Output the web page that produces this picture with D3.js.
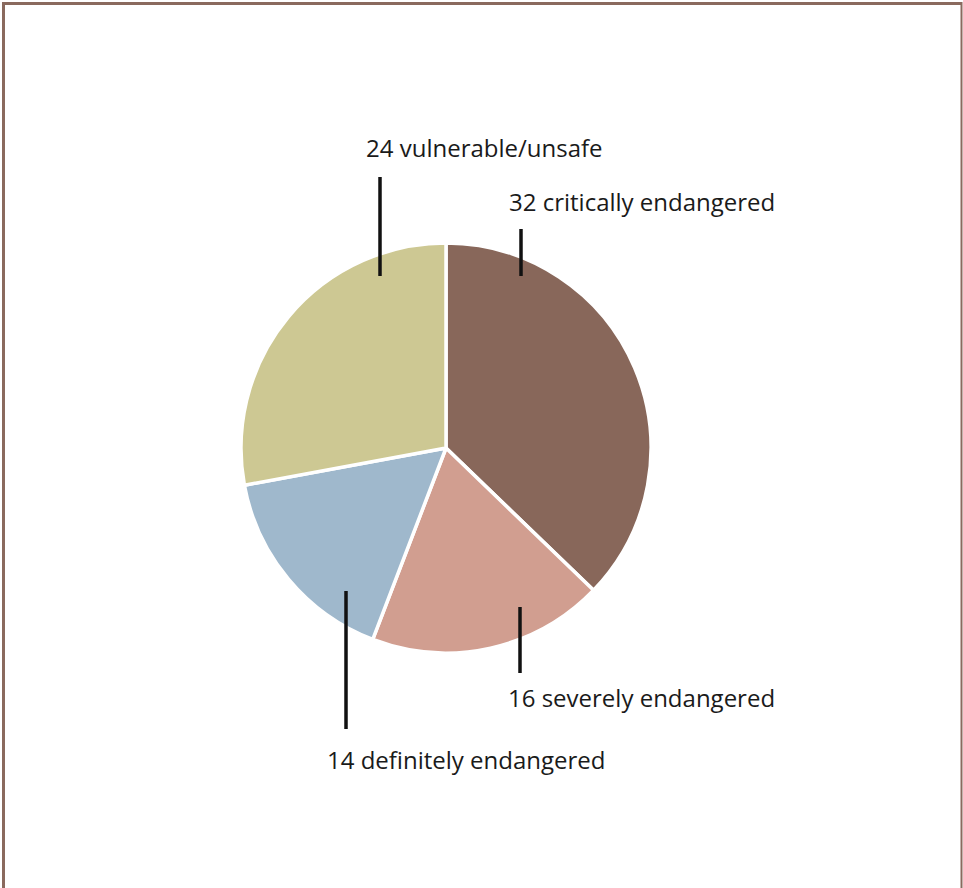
<!DOCTYPE html>
<html>
<head>
<meta charset="utf-8">
<script src="https://cdn.jsdelivr.net/npm/d3@7"></script>
<style>
  html, body { margin: 0; padding: 0; background: #fff; }
  svg { display: block; }
  text { font-family: "Open Sans", "Noto Sans", sans-serif; fill: #1a1a1a; }
</style>
</head>
<body>
<div id="chart"></div>
<script>
// ---- data ----
const categories = ["critically endangered", "severely endangered", "definitely endangered", "vulnerable/unsafe"];
const values = [32, 16, 14, 24];
const colors = ["#88675a", "#d19e90", "#9fb8cc", "#cdc893"];

// ---- layout (label placement, not data) ----
const labelLayout = [
  { lineX: 521, y1: 229, y2: 276, tx: 509, ty: 211 },
  { lineX: 520, y1: 607, y2: 673, tx: 508, ty: 707 },
  { lineX: 346, y1: 591, y2: 729, tx: 327, ty: 769 },
  { lineX: 380, y1: 177, y2: 276, tx: 366, ty: 157 }
];

const W = 963, H = 888;
const cx = 446, cy = 448, R = 205;

const svg = d3.select("#chart").append("svg")
  .attr("width", W).attr("height", H);

// frame: thick top/left, thinner right, open bottom
const frame = svg.append("g").attr("stroke", "#8a6a5e").attr("fill", "none");
frame.append("path").attr("d", "M3.5,888 V3.5 H961").attr("stroke-width", 3);
frame.append("path").attr("d", "M961.5,2 V888").attr("stroke-width", 2);

const pie = d3.pie().sort(null).value(d => d)(values);
const arc = d3.arc().innerRadius(0).outerRadius(R);

const g = svg.append("g").attr("transform", `translate(${cx},${cy})`);
g.selectAll("path").data(pie).join("path")
  .attr("d", arc)
  .attr("fill", (d, i) => colors[i])
  .attr("stroke", "#fff")
  .attr("stroke-width", 3.5)
  .attr("stroke-linejoin", "round");

const labels = svg.append("g");
labels.selectAll("line").data(labelLayout).join("line")
  .attr("x1", d => d.lineX).attr("x2", d => d.lineX)
  .attr("y1", d => d.y1).attr("y2", d => d.y2)
  .attr("stroke", "#111").attr("stroke-width", 3.5);

labels.selectAll("text").data(labelLayout).join("text")
  .attr("x", d => d.tx).attr("y", d => d.ty)
  .attr("font-size", 24)
  .text((d, i) => `${values[i]} ${categories[i]}`);
</script>
</body>
</html>
